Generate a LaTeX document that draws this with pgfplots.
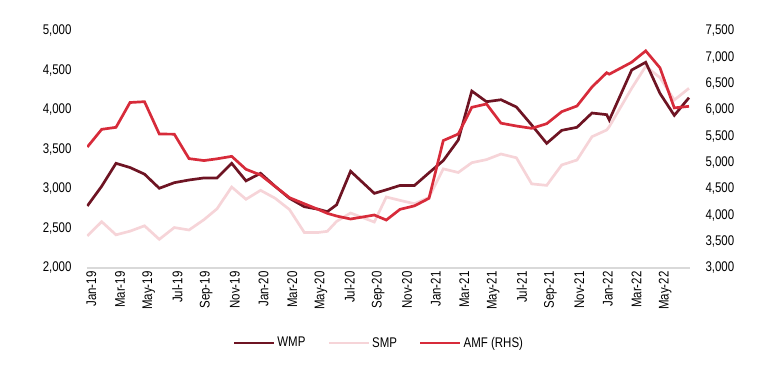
\documentclass[border=0pt]{standalone}
\usepackage{fontspec}
\setmainfont[FakeStretch=0.82]{Liberation Sans}
\usepackage{pgfplots}
\usepackage{pgfplotstable}
\pgfplotsset{compat=1.18}
\definecolor{wmpc}{HTML}{6E1423}
\definecolor{smpc}{HTML}{F6D4D8}
\definecolor{amfc}{HTML}{D72B3A}
\definecolor{gridc}{HTML}{D9D9D9}
\pgfplotstableread{
x wmp smp amf
-0.139 2785 2407 5297
0.864 3035 2586 5633
1.861 3325 2420 5671
2.836 3272 2466 6142
3.847 3188 2534 6158
4.878 3009 2363 5544
5.923 3080 2512 5541
6.948 3114 2481 5077
7.993 3140 2612 5040
8.899 3140 2749 5073
9.923 3325 3025 5120
10.920 3103 2870 4874
11.937 3199 2983 4766
12.941 3035 2884 4550
13.951 2882 2740 4335
14.983 2776 2450 4220
15.972 2743 2450 4110
16.585 2713 2464 4038
17.233 2800 2590 3987
18.209 3225 2696 3930
19.861 2945 2582 4006
20.697 2990 2899 3911
21.652 3045 2856 4114
22.662 3045 2814 4180
23.672 3205 2893 4323
24.669 3360 3255 5420
25.714 3620 3209 5544
26.655 4240 3333 6051
27.679 4105 3372 6114
28.690 4130 3443 5750
29.763 4038 3395 5696
30.829 3810 3065 5652
31.875 3578 3046 5740
32.920 3742 3304 5968
33.986 3781 3367 6076
35.031 3962 3662 6437
36.056 3941 3747 6708
36.237 3873 3790 6680
37.798 4506 4275 6907
38.774 4604 4553 7123
39.770 4210 4410 6800
40.767 3932 4127 6040
41.791 4156 4275 6070
}\datatable
\pgfplotsset{
  every tick label/.append style={font=\fontsize{14bp}{16bp}\selectfont},
  mybase/.style={
    scale only axis, width=603bp, height=237bp,
    xmin=-0.160, xmax=41.861,
    major tick length=0pt,
    /pgf/number format/.cd, fixed, precision=0, 1000 sep={,}, assume math mode=true,
  },
}
\begin{document}
\begin{tikzpicture}
\path[use as bounding box] (-87bp,-105bp) rectangle (678bp,268bp);
\begin{axis}[mybase,
  ymin=2000, ymax=5000, ytick={2000,2500,...,5000},
  axis x line*=bottom, axis y line*=left,
  x axis line style={draw=gridc, line width=1.5bp, -},
  y axis line style={draw=none},
  xtick={0,2,...,40},
  xticklabels={Jan-19,Mar-19,May-19,Jul-19,Sep-19,Nov-19,Jan-20,Mar-20,May-20,Jul-20,Sep-20,Nov-20,Jan-21,Mar-21,May-21,Jul-21,Sep-21,Nov-21,Jan-22,Mar-22,May-22},
  xticklabel style={rotate=90, anchor=east, yshift=-2bp},
  yticklabel style={anchor=east, xshift=-12bp},
]
\addplot[smpc, line width=2.7bp] table[x=x, y=smp] {\datatable};
\addplot[wmpc, line width=2.7bp] table[x=x, y=wmp] {\datatable};
\end{axis}
\begin{axis}[mybase,
  ymin=3000, ymax=7500, ytick={3000,3500,...,7500},
  axis y line*=right, hide x axis,
  y axis line style={draw=none},
  yticklabel style={anchor=west, xshift=12bp},
  legend style={at={(rel axis cs:0.484,-0.316)}, anchor=center, draw=none, fill=none,
    legend columns=3, font=\fontsize{14bp}{16bp}\selectfont,
    /tikz/every even column/.append style={column sep=20bp},
    nodes={inner sep=2bp}},
  legend image code/.code={\draw[#1] (0bp,0bp) -- (40bp,0bp);},
]
\addlegendimage{wmpc, line width=2.7bp}
\addlegendentry{WMP}
\addlegendimage{smpc, line width=2.7bp}
\addlegendentry{SMP}
\addplot[amfc, line width=2.7bp] table[x=x, y=amf] {\datatable};
\addlegendentry{AMF (RHS)}
\end{axis}
\end{tikzpicture}
\end{document}
